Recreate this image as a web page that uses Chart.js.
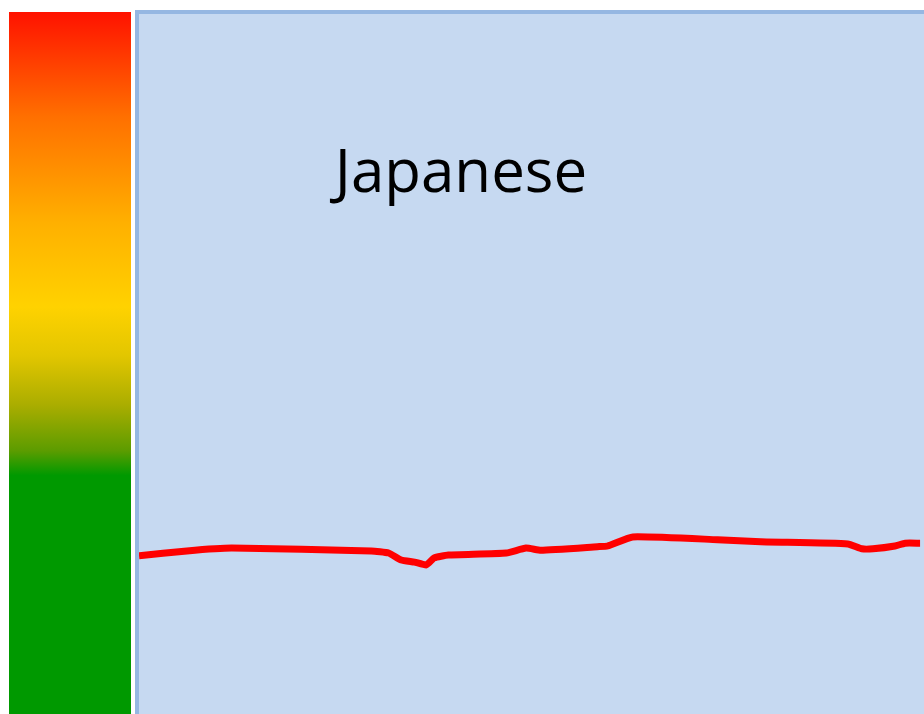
<!DOCTYPE html>
<html>
<head>
<meta charset="utf-8">
<script src="https://cdn.jsdelivr.net/npm/chart.js@4.4.1/dist/chart.umd.min.js"></script>
<style>
  html, body { margin: 0; padding: 0; background: #ffffff; }
  #wrap { position: relative; width: 924px; height: 714px; }
</style>
</head>
<body>
<div id="wrap"><canvas id="langChart" width="924" height="714"></canvas></div>
<script>
// Series (x = position along the period, y = level 0-100)
const chartTitle = 'Japanese';
const xValues = [0, 6.1, 11.8, 29.6, 31.8, 33.4, 35.1, 36.6, 37.6, 39.4, 46.8, 49.3, 51.2, 58.4, 59.7, 62.9, 73.7, 79.2, 90.3, 92.1, 93.5, 96.3, 97.6, 99.5];
const yValues = [22.6, 23.3, 23.7, 23.3, 23.0, 22.0, 21.7, 21.3, 22.3, 22.7, 23.0, 23.7, 23.4, 23.9, 24.0, 25.3, 24.9, 24.6, 24.3, 23.6, 23.6, 24.0, 24.4, 24.4];

// Background: traffic-light strip on the left, framed blue plot area
const backdrop = {
  id: 'backdrop',
  beforeDraw(chart) {
    const { ctx, chartArea } = chart;
    ctx.save();

    const grad = ctx.createLinearGradient(0, 12, 0, 714);
    grad.addColorStop(0.0, '#ff1200');
    grad.addColorStop(0.15, '#ff7000');
    grad.addColorStop(0.30, '#ffb000');
    grad.addColorStop(0.42, '#ffd200');
    grad.addColorStop(0.49, '#e2c600');
    grad.addColorStop(0.56, '#aaad00');
    grad.addColorStop(0.625, '#5c9c00');
    grad.addColorStop(0.66, '#009900');
    grad.addColorStop(1.0, '#009900');
    ctx.fillStyle = grad;
    ctx.fillRect(9, 12, 122, 702);

    ctx.fillStyle = '#95b7e2';
    ctx.fillRect(135, 10, 789, 704);
    ctx.fillStyle = '#c6d9f1';
    ctx.fillRect(chartArea.left, chartArea.top, chartArea.right - chartArea.left, chartArea.bottom - chartArea.top);
    ctx.restore();
  },
  beforeDatasetsDraw(chart) {
    const { ctx } = chart;
    ctx.save();
    ctx.fillStyle = '#000000';
    ctx.font = '60px "Open Sans"';
    ctx.textAlign = 'center';
    ctx.textBaseline = 'alphabetic';
    ctx.fillText(chartTitle, 461, 192);
    ctx.restore();
  }
};

const ctx = document.getElementById('langChart').getContext('2d');
new Chart(ctx, {
  type: 'line',
  data: {
    datasets: [{
      label: chartTitle,
      data: xValues.map((x, i) => ({ x: x, y: yValues[i] })),
      borderColor: '#ff0000',
      borderWidth: 7,
      pointRadius: 0,
      tension: 0.15,
      fill: false
    }]
  },
  options: {
    responsive: false,
    animation: false,
    layout: { padding: { left: 139, top: 14, right: 0, bottom: 0 } },
    plugins: {
      legend: { display: false },
      tooltip: { enabled: false }
    },
    scales: {
      x: { type: 'linear', min: 0, max: 100, display: false },
      y: { min: 0, max: 100, display: false }
    }
  },
  plugins: [backdrop]
});
</script>
</body>
</html>
